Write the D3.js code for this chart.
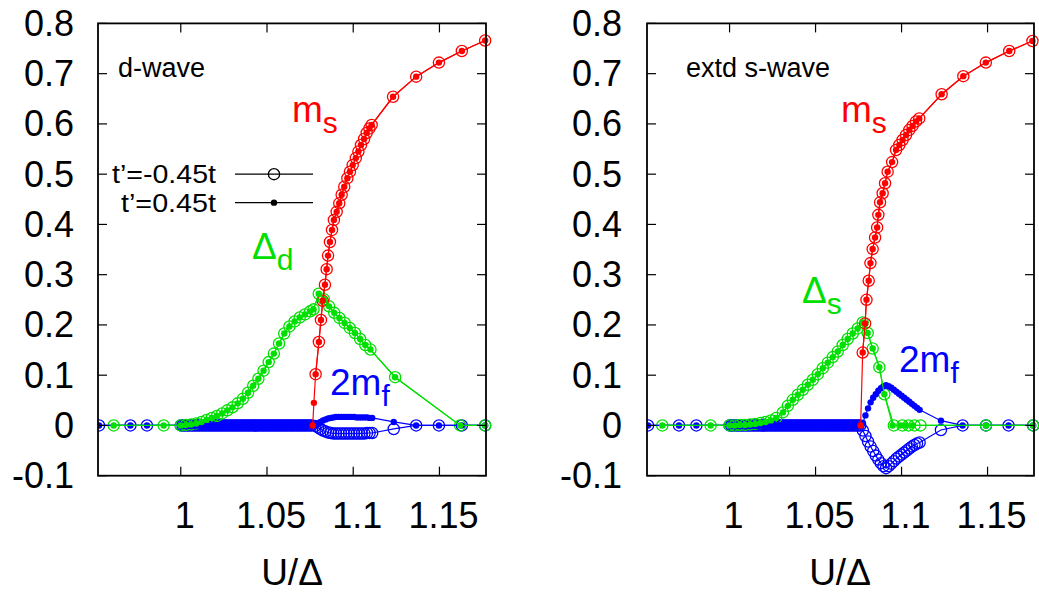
<!DOCTYPE html>
<html>
<head>
<meta charset="utf-8">
<script src="https://cdn.jsdelivr.net/npm/d3@7"></script>
<style>
  body { margin: 0; background: #fff; }
  svg { display: block; }
  text { font-family: "Liberation Sans", Arial, sans-serif; }
</style>
</head>
<body>
<div id="chart"></div>
<script>
// axes
const xTicks = [1, 1.05, 1.1, 1.15];
const xTickLabels = ["1", "1.05", "1.1", "1.15"];
const yTicks = [-0.1, 0, 0.1, 0.2, 0.3, 0.4, 0.5, 0.6, 0.7, 0.8];
const yTickLabels = ["-0.1", "0", "0.1", "0.2", "0.3", "0.4", "0.5", "0.6", "0.7", "0.8"];
const legendLabels = ["t\u2019=-0.45t", "t\u2019=0.45t"];

// dense run of 2m_f points sitting on zero (both panels, both t')
const uBand = [1.000, 1.001, 1.002, 1.003, 1.004, 1.005, 1.006, 1.007, 1.008, 1.009,
  1.010, 1.011, 1.012, 1.013, 1.014, 1.015, 1.016, 1.017, 1.018, 1.019,
  1.020, 1.021, 1.022, 1.023, 1.024, 1.025, 1.026, 1.027, 1.028, 1.029,
  1.030, 1.031, 1.032, 1.033, 1.034, 1.035, 1.036, 1.037, 1.038, 1.039,
  1.040, 1.041, 1.042, 1.043, 1.044, 1.045, 1.046, 1.047, 1.048, 1.049,
  1.050, 1.051, 1.052, 1.053, 1.054, 1.055, 1.056, 1.057, 1.058, 1.059,
  1.060, 1.061, 1.062, 1.063, 1.064, 1.065, 1.066, 1.067, 1.068, 1.069,
  1.070, 1.071, 1.072, 1.073, 1.074, 1.075, 1.076];
const mfBand = [0, 0, 0, 0, 0, 0, 0, 0, 0, 0, 0, 0, 0, 0, 0, 0, 0, 0, 0, 0,
  0, 0, 0, 0, 0, 0, 0, 0, 0, 0, 0, 0, 0, 0, 0, 0, 0, 0, 0, 0,
  0, 0, 0, 0, 0, 0, 0, 0, 0, 0, 0, 0, 0, 0, 0, 0, 0, 0, 0, 0,
  0, 0, 0, 0, 0, 0, 0, 0, 0, 0, 0, 0, 0, 0, 0, 0, 0];

// ---- d-wave panel ----
const msLeadU_D = [1.0765, 1.0772];
const msLead_D = [0, 0.045];
const msU_D = [1.0782, 1.0801, 1.0813, 1.0823, 1.0836, 1.0846, 1.0854, 1.0865, 1.0877, 1.0888,
  1.0904, 1.0919, 1.0933, 1.0948, 1.0966, 1.0981, 1.0997, 1.1015, 1.103, 1.1045,
  1.1063, 1.1078, 1.1094, 1.1107, 1.1231, 1.1365, 1.1497, 1.163, 1.1765];
const ms_D = [0.102, 0.166, 0.21, 0.248, 0.28, 0.311, 0.338, 0.365, 0.389, 0.409,
  0.425, 0.442, 0.459, 0.475, 0.492, 0.505, 0.518, 0.532, 0.545, 0.558,
  0.57, 0.582, 0.591, 0.598, 0.654, 0.694, 0.722, 0.745, 0.766];

const gapU_D = [0.9611, 0.9901, 1.000, 1.003, 1.006, 1.009, 1.012, 1.015, 1.018, 1.021,
  1.024, 1.027, 1.030, 1.033, 1.036, 1.039, 1.042, 1.045, 1.048, 1.051,
  1.054, 1.057, 1.060, 1.063, 1.066, 1.069, 1.072, 1.075, 1.077, 1.080,
  1.083, 1.086, 1.089, 1.092, 1.095, 1.098, 1.101, 1.104, 1.107, 1.110,
  1.1243, 1.162, 1.1765];
const gap_D = [0, 0, 0, 0.001, 0.002, 0.004, 0.007, 0.011, 0.015, 0.019,
  0.024, 0.030, 0.036, 0.044, 0.053, 0.065, 0.079, 0.093, 0.109, 0.126,
  0.143, 0.163, 0.183, 0.197, 0.207, 0.215, 0.221, 0.227, 0.231, 0.262,
  0.251, 0.237, 0.224, 0.214, 0.204, 0.194, 0.184, 0.172, 0.16, 0.151,
  0.096, 0, 0];

const mfHeadU_D = [0.9526, 0.9708, 0.9804];
const mfHead_D = [0, 0, 0];
const prongU_D = [1.078, 1.0795, 1.081, 1.0825, 1.084, 1.0855, 1.087, 1.0885, 1.09, 1.0915,
  1.093, 1.0945, 1.096, 1.0975, 1.099, 1.1005, 1.102, 1.1035, 1.105, 1.1065,
  1.108, 1.1095, 1.111];
const mfDotProng_D = [0.001, 0.004, 0.007, 0.010, 0.012, 0.014, 0.015, 0.016, 0.017, 0.017,
  0.017, 0.017, 0.017, 0.017, 0.017, 0.017, 0.016, 0.016, 0.016, 0.016,
  0.016, 0.015, 0.015];
const mfCircProng_D = [-0.001, -0.004, -0.007, -0.010, -0.012, -0.014, -0.015, -0.016, -0.016, -0.016,
  -0.016, -0.016, -0.016, -0.016, -0.016, -0.016, -0.016, -0.016, -0.016, -0.016,
  -0.015, -0.015, -0.015];
const mfTailU_D = [1.1235, 1.1365, 1.1497, 1.163, 1.1765];
const mfDotTail_D = [0.007, 0, 0, 0, 0];
const mfCircTail_D = [-0.007, 0, 0, 0, 0];

// ---- extended s-wave panel ----
const msLeadU_S = [1.0762];
const msLead_S = [0];
const msU_S = [1.0774, 1.0788, 1.0796, 1.0809, 1.0819, 1.0832, 1.0846, 1.0858, 1.0865, 1.0875,
  1.089, 1.0904, 1.0919, 1.0945, 1.0968, 1.0987, 1.1006, 1.1026, 1.1045, 1.1064,
  1.1084, 1.1103, 1.1233, 1.1359, 1.149, 1.1626, 1.1761];
const ms_S = [0.145, 0.203, 0.25, 0.288, 0.323, 0.351, 0.374, 0.394, 0.419, 0.444,
  0.462, 0.482, 0.505, 0.524, 0.548, 0.558, 0.568, 0.578, 0.588, 0.596,
  0.605, 0.611, 0.659, 0.695, 0.722, 0.745, 0.765];

const gapU_S = [0.9609, 0.989, 1.000, 1.003, 1.006, 1.009, 1.012, 1.015, 1.018, 1.021,
  1.024, 1.0271, 1.031, 1.0339, 1.0368, 1.0397, 1.0426, 1.0455, 1.0484, 1.0513,
  1.0542, 1.0571, 1.06, 1.0629, 1.0658, 1.0687, 1.0716, 1.0745, 1.0774, 1.0803,
  1.0832, 1.0871, 1.09];
const gap_S = [0, 0, 0, 0, 0.001, 0.001, 0.002, 0.003, 0.005, 0.007,
  0.010, 0.015, 0.026, 0.039, 0.051, 0.061, 0.071, 0.081, 0.091, 0.102,
  0.114, 0.125, 0.136, 0.147, 0.16, 0.172, 0.183, 0.193, 0.205, 0.184,
  0.153, 0.116, 0.062];
const gapCircTailU_S = [1.0955, 1.1005, 1.104, 1.1075, 1.111, 1.1491, 1.1765];
const gapCircTail_S = [0, 0, 0, 0, 0, 0, 0];
const gapDotTailU_S = [1.0948, 1.0995, 1.1025, 1.1065, 1.1491, 1.1765];
const gapDotTail_S = [0, 0, 0, 0, 0, 0];

const mfHeadU_S = [0.9526, 0.9706, 0.9807];
const mfHead_S = [0, 0, 0];
const prongU_S = [1.0775, 1.079, 1.0805, 1.082, 1.0835, 1.085, 1.0865, 1.088, 1.0895, 1.091,
  1.0925, 1.094, 1.0955, 1.097, 1.0985, 1.1, 1.1015, 1.103, 1.1045, 1.106,
  1.1075, 1.109, 1.1105];
const mfDotProng_S = [0.005, 0.020, 0.034, 0.046, 0.055, 0.062, 0.069, 0.074, 0.078, 0.080,
  0.078, 0.075, 0.071, 0.067, 0.063, 0.059, 0.055, 0.051, 0.047, 0.043,
  0.039, 0.035, 0.031];
const mfCircProng_S = [-0.010, -0.021, -0.032, -0.042, -0.051, -0.060, -0.068, -0.075, -0.081, -0.085,
  -0.081, -0.076, -0.071, -0.066, -0.062, -0.058, -0.054, -0.050, -0.046, -0.042,
  -0.039, -0.036, -0.034];
const mfTailU_S = [1.1229, 1.1355, 1.1491, 1.1622, 1.1765];
const mfDotTail_S = [0.0095, 0, 0, 0, 0];
const mfCircTail_S = [-0.009, 0, 0, 0, 0];

const RED = "#ff0000", GREEN = "#00e000", BLUE = "#0000ff";

function pts(u, v) {
  return u.map((d, i) => [d, v[i]]);
}

const panels = [
  {
    left: 98, right: 486, tag: "d-wave", tagX: 118,
    yLabelEnd: 74, axisTitleX: 292,
    series: [
      { color: BLUE, kind: "circ", data: pts([...mfHeadU_D, ...uBand, ...prongU_D, ...mfTailU_D], [...mfHead_D, ...mfBand, ...mfCircProng_D, ...mfCircTail_D]) },
      { color: GREEN, kind: "circ", data: pts(gapU_D, gap_D) },
      { color: RED, kind: "circ", data: pts(msU_D, ms_D) },
      { color: BLUE, kind: "dot", data: pts([...mfHeadU_D, ...uBand, ...prongU_D, ...mfTailU_D], [...mfHead_D, ...mfBand, ...mfDotProng_D, ...mfDotTail_D]) },
      { color: GREEN, kind: "dot", data: pts(gapU_D, gap_D) },
      { color: RED, kind: "dot", data: pts([...msLeadU_D, ...msU_D], [...msLead_D, ...ms_D]) },
    ],
    labels: [
      { text: "m", sub: "s", color: RED, x: 292, y: 122 },
      { text: "\u0394", sub: "d", color: GREEN, x: 252, y: 259 },
      { text: "2m", sub: "f", color: BLUE, x: 330, y: 395 },
    ],
    legend: true,
  },
  {
    left: 647, right: 1034, tag: "extd s-wave", tagX: 686,
    yLabelEnd: 622, axisTitleX: 840,
    series: [
      { color: BLUE, kind: "circ", data: pts([...mfHeadU_S, ...uBand, ...prongU_S, ...mfTailU_S], [...mfHead_S, ...mfBand, ...mfCircProng_S, ...mfCircTail_S]) },
      { color: GREEN, kind: "circ", data: pts([...gapU_S, ...gapCircTailU_S], [...gap_S, ...gapCircTail_S]) },
      { color: RED, kind: "circ", data: pts(msU_S, ms_S) },
      { color: BLUE, kind: "dot", data: pts([...mfHeadU_S, ...uBand, ...prongU_S, ...mfTailU_S], [...mfHead_S, ...mfBand, ...mfDotProng_S, ...mfDotTail_S]) },
      { color: GREEN, kind: "dot", data: pts([...gapU_S, ...gapDotTailU_S], [...gap_S, ...gapDotTail_S]) },
      { color: RED, kind: "dot", data: pts([...msLeadU_S, ...msU_S], [...msLead_S, ...ms_S]) },
    ],
    labels: [
      { text: "m", sub: "s", color: RED, x: 841, y: 122 },
      { text: "\u0394", sub: "s", color: GREEN, x: 802, y: 303 },
      { text: "2m", sub: "f", color: BLUE, x: 899, y: 372 },
    ],
    legend: false,
  },
];

const width = 1039, height = 592;
const plotTop = 23.4, plotBottom = 475.7;

const svg = d3.select("#chart").append("svg")
  .attr("width", width)
  .attr("height", height);

const yScale = d3.scaleLinear().domain([-0.1, 0.8]).range([plotBottom, plotTop]);

panels.forEach((p) => {
  const xScale = d3.scaleLinear().domain([0.952, 1.177]).range([p.left, p.right]);
  const g = svg.append("g");

  const clipId = "clip" + p.left;
  svg.append("clipPath").attr("id", clipId)
    .append("rect")
    .attr("x", p.left).attr("y", plotTop - 8)
    .attr("width", p.right - p.left + 8).attr("height", plotBottom - plotTop + 8);

  const plot = g.append("g").attr("clip-path", `url(#${clipId})`);
  const line = d3.line().x((d) => xScale(d[0])).y((d) => yScale(d[1]));

  p.series.forEach((s) => {
    plot.append("path")
      .datum(s.data)
      .attr("fill", "none")
      .attr("stroke", s.color)
      .attr("stroke-width", 1.2)
      .attr("d", line);
    plot.selectAll(null)
      .data(s.data)
      .enter()
      .append("circle")
      .attr("cx", (d) => xScale(d[0]))
      .attr("cy", (d) => yScale(d[1]))
      .attr("r", s.kind === "circ" ? 5.6 : 3.2)
      .attr("fill", s.kind === "circ" ? "none" : s.color)
      .attr("stroke", s.kind === "circ" ? s.color : "none")
      .attr("stroke-width", 1.3);
  });

  // frame
  g.append("rect")
    .attr("x", p.left).attr("y", plotTop)
    .attr("width", p.right - p.left).attr("height", plotBottom - plotTop)
    .attr("fill", "none")
    .attr("stroke", "#000")
    .attr("stroke-width", 1.8);

  // inward ticks on all four sides
  const tickLen = 9;
  g.selectAll(null).data(xTicks).enter().append("line")
    .attr("x1", (d) => xScale(d)).attr("x2", (d) => xScale(d))
    .attr("y1", plotBottom).attr("y2", plotBottom - tickLen)
    .attr("stroke", "#000").attr("stroke-width", 1.2);
  g.selectAll(null).data(xTicks).enter().append("line")
    .attr("x1", (d) => xScale(d)).attr("x2", (d) => xScale(d))
    .attr("y1", plotTop).attr("y2", plotTop + tickLen)
    .attr("stroke", "#000").attr("stroke-width", 1.2);
  g.selectAll(null).data(yTicks).enter().append("line")
    .attr("x1", p.left).attr("x2", p.left + tickLen)
    .attr("y1", (d) => yScale(d)).attr("y2", (d) => yScale(d))
    .attr("stroke", "#000").attr("stroke-width", 1.2);
  g.selectAll(null).data(yTicks).enter().append("line")
    .attr("x1", p.right).attr("x2", p.right - tickLen)
    .attr("y1", (d) => yScale(d)).attr("y2", (d) => yScale(d))
    .attr("stroke", "#000").attr("stroke-width", 1.2);

  // tick labels
  g.selectAll(null).data(xTicks).enter().append("text")
    .attr("x", (d) => xScale(d) + 4)
    .attr("y", 528)
    .attr("text-anchor", "middle")
    .attr("font-size", "36px")
    .text((d, i) => xTickLabels[i]);
  g.selectAll(null).data(yTicks).enter().append("text")
    .attr("x", p.yLabelEnd)
    .attr("y", (d) => yScale(d) + 12.5)
    .attr("text-anchor", "end")
    .attr("font-size", "36px")
    .text((d, i) => yTickLabels[i]);

  // axis title
  g.append("text")
    .attr("x", p.axisTitleX)
    .attr("y", 585)
    .attr("text-anchor", "middle")
    .attr("font-size", "37px")
    .text("U/\u0394");

  // panel tag
  g.append("text")
    .attr("x", p.tagX).attr("y", 77)
    .attr("font-size", "27px")
    .text(p.tag);

  // curve labels
  p.labels.forEach((l) => {
    const t = g.append("text")
      .attr("x", l.x).attr("y", l.y)
      .attr("fill", l.color)
      .attr("font-size", "37px");
    t.append("tspan").text(l.text);
    t.append("tspan").attr("dy", 11).attr("font-size", "30px").text(l.sub);
  });

  if (p.legend) {
    const rows = [
      { y: yScale(0.5), kind: "circ", len: 104 },
      { y: yScale(0.5) + 28.5, kind: "dot", len: 95 },
    ];
    rows.forEach((r, i) => {
      g.append("text")
        .attr("x", 216 - r.len).attr("y", r.y + 9)
        .attr("font-size", "25px")
        .attr("textLength", r.len)
        .attr("lengthAdjust", "spacingAndGlyphs")
        .text(legendLabels[i]);
      g.append("line")
        .attr("x1", 235).attr("x2", 313)
        .attr("y1", r.y).attr("y2", r.y)
        .attr("stroke", "#000").attr("stroke-width", 1.2);
      g.append("circle")
        .attr("cx", 274).attr("cy", r.y)
        .attr("r", r.kind === "circ" ? 5.6 : 3.2)
        .attr("fill", r.kind === "circ" ? "none" : "#000")
        .attr("stroke", r.kind === "circ" ? "#000" : "none")
        .attr("stroke-width", 1.3);
    });
  }
});
</script>
</body>
</html>
